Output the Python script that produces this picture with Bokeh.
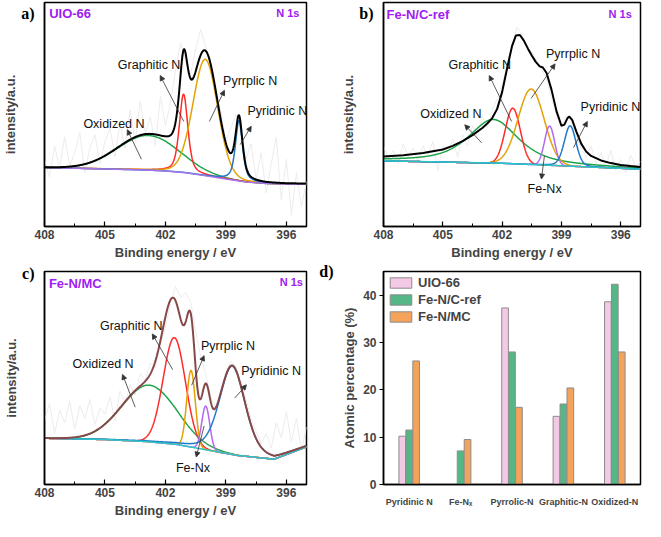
import numpy as np
from bokeh.plotting import figure
from bokeh.layouts import gridplot
from bokeh.models import (Range1d, FixedTicker, Label, Arrow, NormalHead, FactorRange,
                          ColumnDataSource, LinearAxis)
from bokeh.transform import dodge
from bokeh.embed import file_html
from bokeh.resources import INLINE

# ---------------- data ----------------
energy_ticks = [408, 405, 402, 399, 396]
energy_minor = [406.5, 403.5, 400.5, 397.5]

raw_energy = [408.0, 407.75, 407.5, 407.25, 407.0, 406.75, 406.5, 406.25, 406.0, 405.75,
              405.5, 405.25, 405.0, 404.75, 404.5, 404.25, 404.0, 403.75, 403.5, 403.25,
              403.0, 402.75, 402.5, 402.25, 402.0, 401.75, 401.5, 401.25, 401.0, 400.75,
              400.5, 400.25, 400.0, 399.75, 399.5, 399.25, 399.0, 398.75, 398.5, 398.25,
              398.0, 397.75, 397.5, 397.25, 397.0, 396.75, 396.5, 396.25, 396.0, 395.75,
              395.5, 395.25, 395.0]
raw_a = [30, 22, 36, 26, 40, 27, 33, 42, 24, 35, 41, 28, 38, 44, 31, 46, 35, 52, 38, 56,
         41, 49, 36, 58, 45, 55, 70, 82, 74, 68, 79, 88, 80, 71, 58, 52, 38, 44, 50, 41,
         30, 37, 21, 33, 15, 28, 40, 12, 30, 5, 24, 9, 20]
raw_b = [36, 30, 34, 28, 37, 31, 35, 29, 36, 32, 38, 25, 36, 33, 39, 31, 41, 36, 45, 40,
         49, 44, 52, 57, 63, 72, 80, 89, 86, 80, 78, 74, 70, 66, 57, 50, 44, 50, 47, 40,
         35, 31, 36, 28, 33, 27, 34, 25, 30, 24, 32, 27, 29]
raw_c = [30, 38, 24, 35, 29, 39, 26, 37, 31, 40, 28, 36, 33, 41, 30, 44, 38, 47, 42, 52,
         49, 57, 55, 66, 74, 85, 93, 88, 90, 86, 72, 60, 52, 41, 36, 43, 52, 58, 55, 47,
         40, 31, 25, 19, 24, 17, 29, 22, 34, 20, 31, 16, 27]

# envelope of panel b (binding energy, intensity)
env_b_x = [408, 407, 406, 405, 404.5, 404, 403.5, 403, 402.75, 402.5, 402.25, 402.0,
           401.75, 401.5, 401.3, 401.1, 400.9, 400.7, 400.5, 400.3, 400.1, 399.94,
           399.75, 399.5, 399.25, 399.0, 398.85, 398.7, 398.6, 398.45, 398.25, 398.0,
           397.75, 397.5, 397.0, 396.5, 396.0, 395.5, 395.0]
env_b_y = [31.2, 31.8, 32.8, 34.4, 36.0, 38.1, 40.8, 44.0, 46.0, 48.4, 52.5, 60.0,
           70.5, 80.5, 85.3, 85.5, 83.0, 79.5, 76.3, 73.5, 71.5, 71.0,
           68.5, 61.0, 51.5, 45.0, 45.5, 48.3, 49.1, 47.5, 42.5, 37.0,
           33.5, 31.5, 29.5, 28.3, 27.5, 27.0, 26.6]

# baselines (binding energy, intensity)
base_a_x = [408, 405, 403, 402, 401, 400, 399, 398, 397, 396, 395]
base_a_y = [26.3, 25.7, 25.2, 24.8, 24.0, 22.6, 21.2, 19.9, 19.2, 19.0, 19.0]
base_b_x = [408, 402, 399, 395]
base_b_y = [29.3, 28.2, 27.1, 25.6]
base_c_x = [408, 405, 403, 401.5, 400, 398.4, 396.6, 395]
base_c_y = [21.7, 21.1, 20.2, 18.9, 16.3, 13.6, 11.9, 17.7]

# fitted components: centre (eV), height, FWHM (eV), Lorentzian fraction
a_center = [402.85, 401.10, 400.02, 398.35]
a_height = [15.5, 35.0, 52.0, 27.0]
a_fwhm = [3.6, 0.50, 1.45, 0.42]
a_lor = [0.0, 0.5, 0.1, 0.6]

b_center = [402.45, 401.46, 400.53, 399.60, 398.56]
b_height = [19.5, 24.8, 33.7, 17.5, 18.0]
b_fwhm = [3.0, 0.90, 1.55, 0.60, 0.70]
b_lor = [0.7, 0.0, 0.0, 0.0, 0.2]

c_center = [402.80, 401.56, 400.73, 400.00, 398.68]
c_height = [26.6, 50.0, 36.0, 20.5, 41.5]
c_fwhm = [3.2, 1.30, 0.50, 0.47, 1.50]
c_lor = [0.0, 0.0, 0.0, 0.0, 0.3]

# atomic percentages
categories = ["Pyridinic N", "Fe-N\u2093", "Pyrrolic-N", "Graphitic-N", "Oxidized-N"]
uio66 = [10.2, 0.0, 37.3, 14.4, 38.6]
fenc_ref = [11.5, 7.1, 28.0, 17.0, 42.3]
fen_mc = [26.1, 9.5, 16.3, 20.4, 28.0]

# ---------------- styling ----------------
SANS = "Liberation Sans"
SERIF = "Liberation Serif"
PURPLE = "#a020f0"
ARROW = "#333333"
GRAY = "#ececec"
C_OX = "#1fa34a"
C_GR = "#ff2a2a"
C_PYR = "#e3a200"
C_FE = "#b468f0"
C_PYD = "#1f78c8"


def pv(x, c, h, w, eta):
    d2 = 4.0 * (x - c) ** 2 / w ** 2
    return h * (eta / (1.0 + d2) + (1.0 - eta) * np.exp(-np.log(2.0) * d2))


def tag_axis(ax, pos, s):
    ax.ticker = FixedTicker(ticks=[pos])
    ax.major_label_overrides = {pos: s}
    ax.major_label_text_font = SERIF
    ax.major_label_text_font_style = "bold"
    ax.major_label_text_font_size = "16px"
    ax.major_label_text_color = "black"
    ax.major_label_standoff = 4
    ax.major_tick_line_color = None
    ax.minor_tick_line_color = None


def spectrum(width, height, left, right, top, bottom, tag, tag_pos):
    p = figure(width=width, height=height, x_range=Range1d(408, 395), y_range=Range1d(0, 100),
               output_backend="svg", toolbar_location=None,
               min_border_left=left, min_border_right=right,
               min_border_top=top, min_border_bottom=bottom)
    p.grid.visible = False
    p.outline_line_color = "black"
    p.outline_line_width = 1.5
    ax = p.xaxis[0]
    ax.ticker = FixedTicker(ticks=energy_ticks, minor_ticks=energy_minor)
    ax.axis_label = "Binding energy / eV"
    ax.axis_label_text_font = SANS
    ax.axis_label_text_font_style = "bold"
    ax.axis_label_text_font_size = "13px"
    ax.axis_label_standoff = 3
    ax.major_label_text_font = SANS
    ax.major_label_text_font_style = "bold"
    ax.major_label_text_font_size = "12px"
    ax.major_label_standoff = 3
    ax.major_tick_in = 5
    ax.major_tick_out = 0
    ax.minor_tick_in = 3
    ax.minor_tick_out = 0
    ax.axis_line_width = 1.5
    ax.major_tick_line_width = 1.2
    ay = p.yaxis[0]
    tag_axis(ay, tag_pos, tag)
    ay.axis_label = "intensity/a.u."
    ay.axis_label_text_font = SANS
    ay.axis_label_text_font_style = "bold"
    ay.axis_label_text_font_size = "13px"
    ay.axis_label_standoff = 0
    ay.axis_line_width = 1.5
    return p


def draw_spectrum(p, raw, bx, by, centers, heights, fwhms, lors, colors, base_color,
                  env_color, env_x=None, env_y=None):
    p.line(raw_energy, raw, line_color=GRAY, line_width=1)
    grid = np.linspace(408, 395, 651)
    base = np.interp(grid[::-1], bx[::-1], by[::-1])[::-1]
    total = base.copy()
    for c, h, w, e, col in zip(centers, heights, fwhms, lors, colors):
        comp = pv(grid, c, h, w, e)
        total = total + comp
        p.line(grid, base + comp, line_color=col, line_width=1.5)
    p.line(bx, by, line_color=base_color, line_width=1.5)
    if env_x is None:
        p.line(grid, total, line_color=env_color, line_width=2)
    else:
        p.line(env_x, env_y, line_color=env_color, line_width=2)


def txt(p, x, y, s, size="12.5px", color="#111111", style="normal", align="left", font=SANS):
    p.add_layout(Label(x=x, y=y, text=s, text_font=font, text_font_size=size,
                       text_color=color, text_font_style=style, text_align=align,
                       text_baseline="middle"))


def arrow(p, x0, y0, x1, y1):
    p.add_layout(Arrow(end=NormalHead(size=5, fill_color=ARROW, line_color=ARROW, line_width=0.8),
                       x_start=x0, y_start=y0, x_end=x1, y_end=y1,
                       line_color=ARROW, line_width=0.8))


# ---------------- panel a ----------------
pa = spectrum(316, 262, 38, 10, 2, 36, "a)", 95)
draw_spectrum(pa, raw_a, base_a_x, base_a_y, a_center, a_height, a_fwhm, a_lor,
              [C_OX, C_GR, C_PYR, C_PYD], "#a474e8", "black")
txt(pa, 407.77, 95.2, "UIO-66", size="13px", color=PURPLE, style="bold")
txt(pa, 395.35, 95.4, "N 1s", size="11px", color=PURPLE, style="bold", align="right")
txt(pa, 404.36, 72.3, "Graphitic N")
txt(pa, 399.14, 64.9, "Pyrrplic N")
txt(pa, 397.93, 51.7, "Pyridinic N")
txt(pa, 406.07, 45.8, "Oxidized N")
arrow(pa, 401.09, 46.9, 402.26, 67.4)
arrow(pa, 399.82, 46.9, 399.07, 60.8)
arrow(pa, 398.29, 36.6, 397.74, 44.7)
arrow(pa, 403.19, 30.0, 403.89, 43.2)

# ---------------- panel b ----------------
pb = spectrum(328, 262, 42, 4, 2, 36, "b)", 95)
draw_spectrum(pb, raw_b, base_b_x, base_b_y, b_center, b_height, b_fwhm, b_lor,
              [C_OX, C_GR, C_PYR, C_FE, C_PYD], "#2cc6c6", "black", env_b_x, env_b_y)
txt(pb, 407.85, 94.7, "Fe-N/C-ref", size="13px", color=PURPLE, style="bold")
txt(pb, 395.44, 95.0, "N 1s", size="11px", color=PURPLE, style="bold", align="right")
txt(pb, 404.71, 72.3, "Graphitic N")
txt(pb, 399.78, 77.0, "Pyrrplic N")
txt(pb, 398.03, 53.5, "Pyridinic N")
txt(pb, 406.14, 50.3, "Oxidized N")
txt(pb, 400.71, 16.9, "Fe-Nx")
arrow(pb, 401.52, 46.9, 402.65, 67.4)
arrow(pb, 400.53, 57.2, 399.32, 72.6)
arrow(pb, 398.39, 35.2, 397.69, 46.9)
arrow(pb, 403.04, 37.4, 403.89, 45.4)
arrow(pb, 399.86, 31.5, 400.01, 21.2)

# ---------------- panel c ----------------
pc = spectrum(316, 258, 38, 10, 9, 36, "c)", 99)
draw_spectrum(pc, raw_c, base_c_x, base_c_y, c_center, c_height, c_fwhm, c_lor,
              [C_OX, C_GR, C_PYR, C_FE, C_PYD], "#2cc6c6", "#874848")
txt(pc, 407.78, 94.3, "Fe-N/MC", size="13px", color=PURPLE, style="bold")
txt(pc, 395.18, 95.3, "N 1s", size="11px", color=PURPLE, style="bold", align="right")
txt(pc, 405.25, 74.4, "Graphitic N")
txt(pc, 400.24, 65.2, "Pyrrplic N")
txt(pc, 398.24, 53.2, "Pyridinic N")
txt(pc, 406.61, 56.8, "Oxidized N")
txt(pc, 401.48, 7.7, "Fe-Nx")
arrow(pc, 401.64, 53.9, 402.65, 70.7)
arrow(pc, 400.70, 46.6, 400.08, 60.5)
arrow(pc, 398.56, 40.6, 397.98, 46.8)
arrow(pc, 403.50, 36.3, 404.13, 51.7)
arrow(pc, 400.08, 27.5, 400.47, 12.9)

# ---------------- panel d ----------------
src = ColumnDataSource(dict(cat=categories, uio=uio66, ref=fenc_ref, mc=fen_mc))
pd_ = figure(width=328, height=258, x_range=FactorRange(*categories, range_padding=0),
             y_range=Range1d(0, 45), output_backend="svg", toolbar_location=None,
             min_border_left=54, min_border_right=2, min_border_top=9, min_border_bottom=36)
pd_.grid.visible = False
pd_.outline_line_color = "black"
pd_.outline_line_width = 1.5
bw = 0.13
pd_.vbar(x=dodge("cat", -0.135, range=pd_.x_range), top="uio", width=bw, source=src,
         fill_color="#f3c9e6", line_color="#8c8c8c", line_width=1, legend_label="UIO-66")
pd_.vbar(x=dodge("cat", 0.0, range=pd_.x_range), top="ref", width=bw, source=src,
         fill_color="#55b785", line_color="#8c8c8c", line_width=1, legend_label="Fe-N/C-ref")
pd_.vbar(x=dodge("cat", 0.135, range=pd_.x_range), top="mc", width=bw, source=src,
         fill_color="#f4a35a", line_color="#8c8c8c", line_width=1, legend_label="Fe-N/MC")
ax = pd_.xaxis[0]
ax.major_label_text_font = SANS
ax.major_label_text_font_style = "bold"
ax.major_label_text_font_size = "9px"
ax.major_label_standoff = 6
ax.major_tick_line_color = None
ax.minor_tick_line_color = None
ax.axis_line_width = 1.5
ay = pd_.yaxis[0]
ay.ticker = FixedTicker(ticks=[0, 10, 20, 30, 40])
ay.axis_label = "Atomic percentage (%)"
ay.axis_label_text_font = SANS
ay.axis_label_text_font_style = "bold"
ay.axis_label_text_font_size = "13px"
ay.axis_label_standoff = 3
ay.major_label_text_font = SANS
ay.major_label_text_font_style = "bold"
ay.major_label_text_font_size = "12px"
ay.major_label_standoff = 3
ay.major_tick_in = 0
ay.major_tick_out = 4
ay.minor_tick_line_color = None
ay.axis_line_width = 1.5
tag_d = LinearAxis(axis_line_color=None)
tag_axis(tag_d, 45, "d)")
tag_d.major_label_standoff = 0
pd_.add_layout(tag_d, "left")
lg = pd_.legend[0]
lg.location = "top_left"
lg.border_line_color = None
lg.background_fill_alpha = 0
lg.label_text_font = SANS
lg.label_text_font_style = "bold"
lg.label_text_font_size = "13px"
lg.glyph_width = 27
lg.glyph_height = 13
lg.label_height = 13
lg.spacing = 2
lg.padding = 3
lg.margin = 4
lg.label_standoff = 4

grid = gridplot([[pa, pb], [pc, pd_]], toolbar_location=None)
open("out.html", "w").write(file_html(grid, INLINE))
